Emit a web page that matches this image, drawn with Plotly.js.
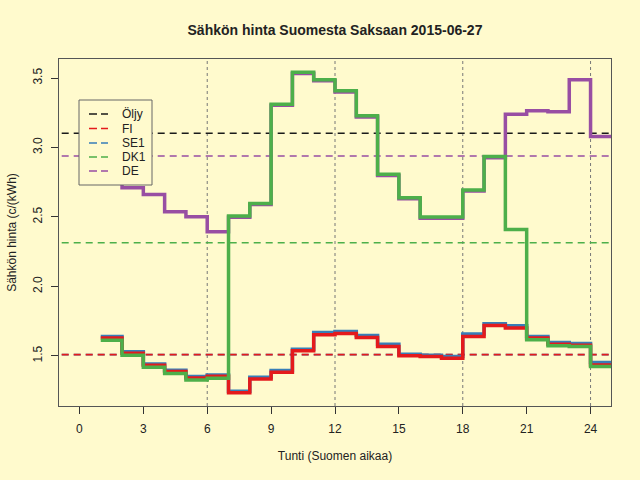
<!DOCTYPE html>
<html>
<head>
<meta charset="utf-8">
<script src="https://cdn.plot.ly/plotly-3.0.1.min.js"></script>
<style>html,body{margin:0;padding:0;background:#FFFACD;}#chart{width:640px;height:480px;}</style>
</head>
<body>
<div id="chart"></div>
<script>
// ---- data ----
const hours = [1,2,3,4,5,6,7,8,9,10,11,12,13,14,15,16,17,18,19,20,21,22,23,24];
const FI  = [1.628,1.519,1.433,1.387,1.341,1.353,1.235,1.334,1.382,1.536,1.652,1.661,1.632,1.567,1.500,1.495,1.483,1.639,1.719,1.700,1.628,1.584,1.577,1.435];
const SE1 = [1.639,1.529,1.442,1.397,1.351,1.363,1.245,1.346,1.394,1.548,1.668,1.675,1.647,1.584,1.512,1.505,1.495,1.657,1.731,1.717,1.639,1.596,1.589,1.452];
const DK1 = [1.613,1.505,1.418,1.373,1.327,1.339,2.506,2.597,3.312,3.541,3.488,3.408,3.228,2.807,2.639,2.499,2.499,2.694,2.935,2.410,1.616,1.572,1.567,1.423];
const DE  = [3.220,2.711,2.662,2.538,2.501,2.393,2.498,2.589,3.304,3.533,3.480,3.400,3.220,2.799,2.631,2.491,2.491,2.686,2.927,3.240,3.264,3.257,3.488,3.079];
const avgNames  = ["Öljy","FI","SE1","DK1","DE"];
const avgValues = [3.103, 1.509, 1.509, 2.314, 2.939];
const xTicks = [0,3,6,9,12,15,18,21,24];
const yTicks = [1.5,2.0,2.5,3.0,3.5];
const gridHours = [6,12,18,24];

// ---- styling ----
const colors = {"Öljy":"#1a1a1a","FI":"#E41A1C","SE1":"#377EB8","DK1":"#4DAF4A","DE":"#984EA3"};
const BG = "#FFFACD";
const FONT = "Liberation Sans, Arial, Helvetica, sans-serif";
const XR = [-0.96, 24.96], YR = [1.139, 3.637];
const M = {l:59, r:29, t:59, b:74};
const W = 640, H = 480, PW = W - M.l - M.r, PH = H - M.t - M.b;
const px2x = p => (p - M.l) / PW;
const px2y = p => (H - M.b - p) / PH;

function stepTrace(name, vals){
  return {x: hours.concat([hours[hours.length-1]+1]), y: vals.concat([vals[vals.length-1]]),
    type:'scatter', mode:'lines', name: name, showlegend:false,
    line:{shape:'hv', color: colors[name], width:3.5}};
}

const traces = [];
// average / reference lines (SE1 first so FI covers it)
const avgOrder = [0,2,1,3,4];
avgOrder.forEach(i => {
  traces.push({x:[XR[0]-1, XR[1]+1], y:[avgValues[i], avgValues[i]], type:'scatter', mode:'lines',
    name: avgNames[i], showlegend:false, hoverinfo:'skip',
    line:{color: colors[avgNames[i]], width:1.6, dash:'7px,5px'}});
});
traces.push(stepTrace("DE", DE));
traces.push(stepTrace("SE1", SE1));
traces.push(stepTrace("FI", FI));
traces.push(stepTrace("DK1", DK1));

const shapes = gridHours.map(h => ({type:'line', xref:'x', yref:'paper', x0:h, x1:h, y0:0, y1:1,
  layer:'below', line:{color:'#777', width:1, dash:'dot'}}));

// legend box
const LG = {x0:79, x1:152, y0:100, y1:185, rows:[114,128.5,143,157,171], s0:89, s1:108, tx:120};
shapes.push({type:'rect', xref:'paper', yref:'paper', x0:px2x(LG.x0), x1:px2x(LG.x1), y0:px2y(LG.y1), y1:px2y(LG.y0),
  layer:'above', fillcolor:BG, line:{color:'#666', width:1}});
const annotations = [];
avgNames.forEach((n,i) => {
  shapes.push({type:'line', xref:'paper', yref:'paper', x0:px2x(LG.s0), x1:px2x(LG.s1), y0:px2y(LG.rows[i]), y1:px2y(LG.rows[i]),
    layer:'above', line:{color:colors[n], width:1.6, dash:'8px,4px'}});
  annotations.push({xref:'paper', yref:'paper', x:px2x(LG.tx), y:px2y(LG.rows[i]), xanchor:'left', yanchor:'middle',
    text:n, showarrow:false, font:{family:FONT, size:12, color:'#222'}});
});

const layout = {
  width:W, height:H, margin:M, paper_bgcolor:BG, plot_bgcolor:BG, showlegend:false,
  title:{text:'<b>Sähkön hinta Suomesta Saksaan 2015-06-27</b>', x:0.5, xref:'paper', y:1-30/H, yref:'container', yanchor:'middle',
    font:{family:FONT, size:14, color:'#222'}},
  xaxis:{range:XR, tickmode:'array', tickvals:xTicks, ticktext:xTicks.map(String), ticks:'outside', ticklen:7, tickcolor:'#333',
    showgrid:false, zeroline:false, showline:true, linecolor:'#555', mirror:true,
    tickfont:{family:FONT, size:12, color:'#222'}, ticklabelstandoff:5,
    title:{text:'Tunti (Suomen aikaa)', font:{family:FONT, size:12, color:'#222'}, standoff:16}},
  yaxis:{range:YR, tickmode:'array', tickvals:yTicks, ticktext:yTicks.map(v=>v.toFixed(1)), tickangle:-90, ticks:'outside', ticklen:7, tickcolor:'#333',
    showgrid:false, zeroline:false, showline:true, linecolor:'#555', mirror:true,
    tickfont:{family:FONT, size:12, color:'#222'}, ticklabelstandoff:4,
    title:{text:'Sähkön hinta (c/(kWh)', font:{family:FONT, size:12, color:'#222'}, standoff:12}},
  shapes:shapes, annotations:annotations
};
Plotly.newPlot('chart', traces, layout, {staticPlot:true, displayModeBar:false});
</script>
</body>
</html>
